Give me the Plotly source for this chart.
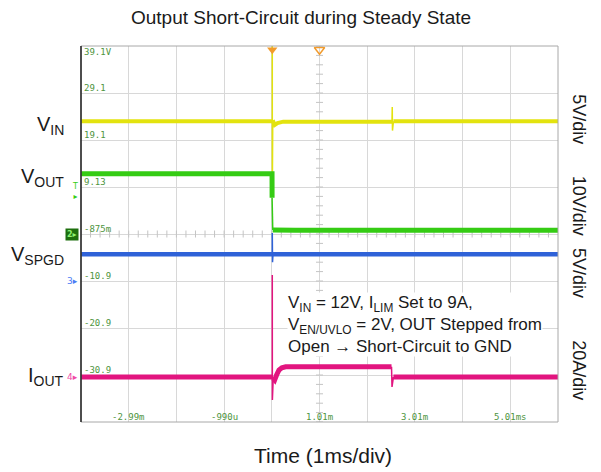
import plotly.graph_objects as go
import numpy as np

# ---- scope geometry (10 x 8 divisions, 1 ms/div) ----
T_START, T_STOP = -3.99, 6.01
N_DIV_Y = 8

# ---- channel scales (units/div) and ground reference positions (div) ----
VIN_SCALE, VIN_REF = 5.0, 4.0
VOUT_SCALE, VOUT_REF = 10.0, 4.0
SPGD_SCALE, SPGD_REF = 5.0, 3.0
IOUT_SCALE, IOUT_REF = 20.0, 0.96

# ---- waveforms: settled portions (drawn heavy) and fast transients (drawn thin) ----
vin_t = [-3.99, 0.02, None, 0.03, 0.07, 0.13, 0.25, 2.53, None, 2.56, 6.01]
vin_v = [12.0, 12.0, None, 12.1, 11.6, 11.8, 11.95, 11.95, None, 12.0, 12.0]
vin_tr_t = [0.02, 0.02, 0.021, 0.03, None, 2.53, 2.535, 2.54, 2.56]
vin_tr_v = [12.0, 20.6, 4.4, 12.1, None, 11.95, 13.5, 11.0, 12.0]

vout_t = [-3.99, 0.015, 0.016, None, 0.03, 0.2, 0.5, 6.01]
vout_v = [12.8, 12.8, 7.7, None, 0.85, 0.9, 0.8, 0.8]
vout_tr_t = [0.016, 0.02, 0.03]
vout_tr_v = [7.7, 1.0, 0.85]

spgd_t = [-3.99, 0.02, None, 0.035, 6.01]
spgd_v = [2.85, 2.85, None, 2.85, 2.85]
spgd_tr_t = [0.02, 0.02, 0.025, 0.035]
spgd_tr_v = [2.85, 5.1, 2.0, 2.85]

iout_t = [-3.99, 0.02, None, 0.04, 0.07, 0.11, 0.16, 0.22, 0.3, 2.52, None, 2.56, 6.01]
iout_v = [0.0, 0.0, None, -0.6, -1.3, 0.8, 2.9, 3.9, 4.3, 4.3, None, 0.0, 0.0]
iout_tr_t = [0.02, 0.02, 0.022, 0.04, None, 2.52, 2.525, 2.53, 2.56]
iout_tr_v = [0.0, 43.4, -9.8, -0.6, None, 4.3, 0.0, -4.3, 0.0]

# ---- on-screen scale readouts ----
y_readouts = ["-30.9", "-20.9", "-10.9", "-875m", "9.13", "19.1", "29.1", "39.1V"]
t_readout_pos = [-2.99, -0.99, 1.01, 3.01, 5.01]
t_readouts = ["-2.99m", "-990u", "1.01m", "3.01m", "5.01ms"]

YELLOW = "#e3e30e"
GREEN = "#35cc14"
BLUE = "#2f62d8"
MAGENTA = "#e2157f"
ORANGE = "#f29b2c"
READOUT = "#4e9440"
FONT = "Arial, Liberation Sans, sans-serif"


def to_div(vals, ref, scale):
    return [None if v is None else ref + v / scale for v in vals]


fig = go.Figure()

# minor graticule ticks on the centre cross
cx = (T_START + T_STOP) / 2
cy = N_DIV_Y / 2
hx = np.arange(T_START, T_STOP + 1e-9, 0.2)
vy = np.arange(0, N_DIV_Y + 1e-9, 0.2)
fig.add_trace(go.Scatter(x=hx, y=[cy] * len(hx), mode="markers", hoverinfo="skip",
                         marker=dict(symbol="line-ns", size=5, line=dict(color="#c4c4c4", width=1))))
fig.add_trace(go.Scatter(x=[cx] * len(vy), y=vy, mode="markers", hoverinfo="skip",
                         marker=dict(symbol="line-ew", size=5, line=dict(color="#c4c4c4", width=1))))

channels = [
    (vin_t, vin_v, vin_tr_t, vin_tr_v, VIN_REF, VIN_SCALE, YELLOW, 4),
    (vout_t, vout_v, vout_tr_t, vout_tr_v, VOUT_REF, VOUT_SCALE, GREEN, 5),
    (spgd_t, spgd_v, spgd_tr_t, spgd_tr_v, SPGD_REF, SPGD_SCALE, BLUE, 4.5),
    (iout_t, iout_v, iout_tr_t, iout_tr_v, IOUT_REF, IOUT_SCALE, MAGENTA, 5),
]
for t, v, tt, tv, ref, scale, col, w in channels:
    fig.add_trace(go.Scatter(x=tt, y=to_div(tv, ref, scale), mode="lines",
                             line=dict(color=col, width=1.5), hoverinfo="skip"))
    fig.add_trace(go.Scatter(x=t, y=to_div(v, ref, scale), mode="lines",
                             line=dict(color=col, width=w), hoverinfo="skip"))

# trigger position markers on the top edge
fig.add_trace(go.Scatter(x=[0.02], y=[N_DIV_Y - 0.08], mode="markers", cliponaxis=False,
                         marker=dict(symbol="triangle-down", size=9, color=ORANGE),
                         hoverinfo="skip"))
fig.add_trace(go.Scatter(x=[1.01], y=[N_DIV_Y - 0.08], mode="markers", cliponaxis=False,
                         marker=dict(symbol="triangle-down-open", size=9, color=ORANGE,
                                     line=dict(color=ORANGE, width=1.5)),
                         hoverinfo="skip"))

ann = []
# vertical readouts just above each graticule line
for k, lab in enumerate(y_readouts, start=1):
    top = k == N_DIV_Y
    ann.append(dict(x=T_START, y=k, xref="x", yref="y", text=lab, showarrow=False,
                    xanchor="left", yanchor="middle", xshift=1, yshift=-6 if top else 5,
                    font=dict(family="DejaVu Sans Mono", size=9, color=READOUT)))
# time readouts along the bottom
for x, lab in zip(t_readout_pos, t_readouts):
    ann.append(dict(x=x, y=0.11, xref="x", yref="y", text=lab, showarrow=False,
                    xanchor="center", yanchor="middle",
                    font=dict(family="DejaVu Sans Mono", size=9, color=READOUT)))

# channel names on the left
for lab, yd in [("V<sub>IN</sub>", 6.3), ("V<sub>OUT</sub>", 5.2),
                ("V<sub>SPGD</sub>", 3.55), ("I<sub>OUT</sub>", 0.96)]:
    ann.append(dict(x=-0.032, y=yd, xref="paper", yref="y", text=lab, showarrow=False,
                    xanchor="right", yanchor="middle",
                    font=dict(family=FONT, size=20, color="#1a1a1a")))

# channel ground / trigger markers at the left edge
ann.append(dict(x=-0.004, y=4.0, xref="paper", yref="y", text="<b>2</b>▸", showarrow=False,
                xanchor="right", yanchor="middle", bgcolor="#1d6f0d", borderpad=1,
                font=dict(family="DejaVu Sans", size=8, color="#8ef070")))
ann.append(dict(x=-0.002, y=3.0, xref="paper", yref="y", text="3▸", showarrow=False,
                xanchor="right", yanchor="middle",
                font=dict(family="DejaVu Sans", size=9, color="#4a7cf5")))
ann.append(dict(x=-0.002, y=IOUT_REF, xref="paper", yref="y", text="4▸", showarrow=False,
                xanchor="right", yanchor="middle",
                font=dict(family="DejaVu Sans", size=9, color="#f04aa8")))
ann.append(dict(x=-0.003, y=4.9, xref="paper", yref="y", text="T<br>▸", showarrow=False,
                xanchor="right", yanchor="middle",
                font=dict(family="DejaVu Sans", size=8, color=GREEN)))

# vertical scale labels on the right
for lab, yd in [("5V/div", 6.44), ("10V/div", 4.6), ("5V/div", 3.17), ("20A/div", 1.1)]:
    ann.append(dict(x=1.044, y=yd, xref="paper", yref="y", text=lab, showarrow=False,
                    textangle=90, xanchor="center", yanchor="middle",
                    font=dict(family=FONT, size=18, color="#1a1a1a")))

# test-condition note
ann.append(dict(x=0.432, y=2.085, xref="paper", yref="y", align="left",
                text="V<sub>IN</sub> = 12V, I<sub>LIM</sub> Set to 9A,<br>"
                     "V<sub>EN/UVLO</sub> = 2V, OUT Stepped from<br>"
                     "Open → Short-Circuit to GND",
                showarrow=False, xanchor="left", yanchor="middle", bgcolor="white",
                borderpad=0, font=dict(family=FONT, size=17, color="#1a1a1a")))

# title and time-axis label
ann.append(dict(x=(300.5 - 81) / 477, y=(422 - 18) / 376, xref="paper", yref="paper",
                text="Output Short-Circuit during Steady State",
                showarrow=False, xanchor="center", yanchor="middle",
                font=dict(family=FONT, size=19, color="#1a1a1a")))
ann.append(dict(x=0.508, y=-0.088, xref="paper", yref="paper", text="Time (1ms/div)",
                showarrow=False, xanchor="center", yanchor="middle",
                font=dict(family=FONT, size=21, color="#1a1a1a")))

fig.update_layout(
    width=601, height=472,
    margin=dict(l=81, r=43, t=46, b=50),
    paper_bgcolor="white", plot_bgcolor="white",
    showlegend=False,
    annotations=ann,
    shapes=[
        dict(type="rect", xref="paper", yref="paper", x0=0, x1=1, y0=0, y1=1,
             line=dict(color="#a8a8a8", width=1)),
        dict(type="line", xref="paper", yref="paper", x0=0, x1=0, y0=0, y1=1,
             line=dict(color="#222222", width=1.5)),
    ],
    xaxis=dict(range=[T_START, T_STOP], tick0=T_START, dtick=1, showgrid=True,
               gridcolor="#d8d8d8", gridwidth=1, showticklabels=False, zeroline=False,
               showline=False, ticks=""),
    yaxis=dict(range=[0, N_DIV_Y], tick0=0, dtick=1, showgrid=True,
               gridcolor="#d8d8d8", gridwidth=1, showticklabels=False, zeroline=False,
               showline=False, ticks=""),
)

fig.write_html("out.html")
